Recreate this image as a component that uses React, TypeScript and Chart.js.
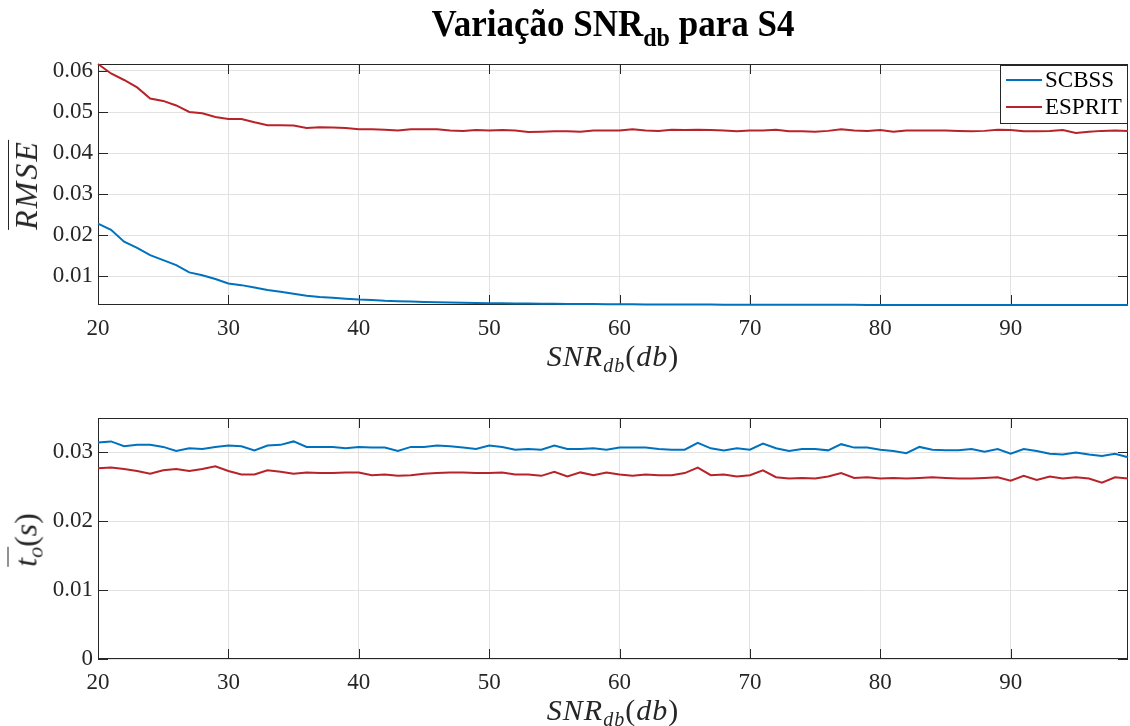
import React, { useEffect, useRef } from "react";
import { Chart, registerables } from "chart.js";

Chart.register(...registerables);

// ---------- data ----------
const SNR_DB = [
  20, 21, 22, 23, 24, 25, 26, 27, 28, 29, 30, 31, 32, 33, 34, 35, 36, 37, 38, 39,
  40, 41, 42, 43, 44, 45, 46, 47, 48, 49, 50, 51, 52, 53, 54, 55, 56, 57, 58, 59,
  60, 61, 62, 63, 64, 65, 66, 67, 68, 69, 70, 71, 72, 73, 74, 75, 76, 77, 78, 79,
  80, 81, 82, 83, 84, 85, 86, 87, 88, 89, 90, 91, 92, 93, 94, 95, 96, 97, 98, 99,
];

const RMSE_SCBSS = [
  0.0228, 0.0213, 0.0184, 0.0169, 0.0151, 0.0139, 0.0127, 0.0109, 0.0102, 0.0093,
  0.0082, 0.0078, 0.0072, 0.0066, 0.0062, 0.0057, 0.0052, 0.0049, 0.0047, 0.0045,
  0.0043, 0.0042, 0.0040, 0.0039, 0.0038, 0.0037, 0.00363, 0.00356, 0.0035, 0.00345,
  0.0034, 0.00336, 0.00333, 0.0033, 0.00327, 0.00324, 0.00322, 0.0032, 0.00318, 0.00316,
  0.00314, 0.00312, 0.00311, 0.0031, 0.00309, 0.00308, 0.00307, 0.00306, 0.00305, 0.00304,
  0.00303, 0.00302, 0.00302, 0.00301, 0.00301, 0.003, 0.003, 0.003, 0.003, 0.00299,
  0.00299, 0.00299, 0.00299, 0.00298, 0.00298, 0.00298, 0.00298, 0.00298, 0.00297, 0.00297,
  0.00297, 0.00297, 0.00297, 0.00297, 0.00297, 0.00296, 0.00296, 0.00296, 0.00296, 0.00296,
];

const RMSE_ESPRIT = [
  0.0617, 0.0594, 0.0578, 0.056, 0.0533, 0.0527, 0.0516, 0.05, 0.0497, 0.0488,
  0.0483, 0.0483, 0.0475, 0.0468, 0.0468, 0.0467, 0.0461, 0.0463, 0.0462, 0.0461,
  0.0458, 0.0458, 0.0457, 0.0455, 0.0458, 0.0458, 0.0458, 0.0455, 0.0454, 0.0456,
  0.0455, 0.0456, 0.0455, 0.0451, 0.0452, 0.0453, 0.0453, 0.0452, 0.0455, 0.0455,
  0.0455, 0.0458, 0.0455, 0.0454, 0.0457, 0.0456, 0.0457, 0.0456, 0.0455, 0.0453,
  0.0455, 0.0455, 0.0457, 0.0453, 0.0453, 0.0452, 0.0454, 0.0458, 0.0455, 0.0454,
  0.0456, 0.0452, 0.0455, 0.0455, 0.0455, 0.0455, 0.0454, 0.0453, 0.0454, 0.0457,
  0.0456, 0.0453, 0.0453, 0.0454, 0.0456, 0.0449, 0.0452, 0.0454, 0.0455, 0.0454,
];

const TIME_SCBSS = [
  0.03145, 0.0316, 0.0309, 0.0311, 0.0311, 0.0308, 0.0302, 0.0306, 0.0305, 0.0308,
  0.031, 0.0309, 0.0303, 0.031, 0.0311, 0.0316, 0.0308, 0.0308, 0.0308, 0.0306,
  0.0308, 0.0307, 0.0307, 0.0302, 0.0308, 0.0308, 0.031, 0.0309, 0.0307, 0.0305,
  0.031, 0.0308, 0.0304, 0.0305, 0.0304, 0.031, 0.0305, 0.0305, 0.0306, 0.0304,
  0.0307, 0.0307, 0.0307, 0.0305, 0.0304, 0.0304, 0.0314, 0.0306, 0.0303, 0.0306,
  0.0304, 0.0313, 0.0306, 0.0302, 0.0305, 0.0305, 0.0303, 0.0312, 0.0307, 0.0307,
  0.0304, 0.0302, 0.0299, 0.0308, 0.0304, 0.0303, 0.0303, 0.0305, 0.0301, 0.0305,
  0.0298, 0.0305, 0.0302, 0.0298, 0.0297, 0.03, 0.0297, 0.0295, 0.0298, 0.0293,
];

const TIME_ESPRIT = [
  0.0277, 0.0278, 0.0276, 0.0273, 0.0269, 0.0274, 0.0276, 0.0273, 0.0276, 0.028,
  0.0273, 0.0268, 0.0268, 0.0274, 0.0272, 0.0269, 0.0271, 0.027, 0.027, 0.0271,
  0.0271, 0.0267, 0.0268, 0.0266, 0.0267, 0.0269, 0.027, 0.0271, 0.0271, 0.027,
  0.027, 0.0271, 0.0268, 0.0268, 0.0266, 0.0272, 0.0265, 0.0271, 0.0267, 0.0271,
  0.0268, 0.0266, 0.0268, 0.0267, 0.0267, 0.027, 0.0278, 0.0267, 0.0268, 0.0265,
  0.0267, 0.0274, 0.0264, 0.0262, 0.0263, 0.0262, 0.0265, 0.027, 0.0263, 0.0264,
  0.0262, 0.0263, 0.0262, 0.0263, 0.0264, 0.0263, 0.0262, 0.0262, 0.0263, 0.0264,
  0.0259, 0.0266, 0.026, 0.0265, 0.0262, 0.0264, 0.0262, 0.0256, 0.0264, 0.0262,
];

const SERIES_LABELS = ["SCBSS", "ESPRIT"];
const SERIES_COLORS = ["#0072BD", "#B8232A"];

const X_TICKS = [20, 30, 40, 50, 60, 70, 80, 90];
const X_MIN = 20;
const X_MAX = 99;
const RMSE_TICKS = [0.01, 0.02, 0.03, 0.04, 0.05, 0.06];
const RMSE_MIN = 0.00296;
const RMSE_MAX = 0.0617;
const TIME_TICKS = [0, 0.01, 0.02, 0.03];
const TIME_MIN = 0;
const TIME_MAX = 0.035;

// ---------- styling ----------
const W = 1130;
const H = 726;
const FONT = "'Liberation Serif', 'Times New Roman', serif";
const AXIS_COLOR = "#262626";
const GRID_COLOR = "#e2e2e2";
const PLOT_LEFT = 98;
const PLOT_RIGHT = 1128;

const framePlugin = {
  id: "matlabFrame",
  beforeDatasetsDraw(chart: any) {
    const { ctx, chartArea: a, scales } = chart;
    ctx.save();
    ctx.strokeStyle = AXIS_COLOR;
    ctx.lineWidth = 1;
    const tl = 10;
    ctx.beginPath();
    scales.x.ticks.forEach((t: any) => {
      const px = Math.round(scales.x.getPixelForValue(t.value)) + 0.5;
      ctx.moveTo(px, a.bottom);
      ctx.lineTo(px, a.bottom - tl);
      ctx.moveTo(px, a.top);
      ctx.lineTo(px, a.top + tl);
    });
    scales.y.ticks.forEach((t: any) => {
      const py = Math.round(scales.y.getPixelForValue(t.value)) + 0.5;
      ctx.moveTo(a.left, py);
      ctx.lineTo(a.left + tl, py);
      ctx.moveTo(a.right, py);
      ctx.lineTo(a.right - tl, py);
    });
    ctx.stroke();
    ctx.strokeRect(Math.round(a.left) + 0.5, Math.round(a.top) + 0.5, Math.round(a.width) - 1, Math.round(a.height) - 1);
    ctx.restore();
  },
};

const legendPlugin = {
  id: "boxLegend",
  afterDraw(chart: any) {
    if (!chart.options.plugins.boxLegend?.show) return;
    const { ctx, chartArea: a } = chart;
    const bw = 128;
    const bh = 59;
    const x0 = Math.round(a.right) - bw;
    const y0 = Math.round(a.top) + 1;
    ctx.save();
    ctx.fillStyle = "#ffffff";
    ctx.fillRect(x0, y0, bw, bh);
    ctx.strokeStyle = AXIS_COLOR;
    ctx.lineWidth = 1;
    ctx.strokeRect(x0 + 0.5, y0 + 0.5, bw - 1, bh - 1);
    ctx.font = `23px ${FONT}`;
    ctx.textBaseline = "middle";
    ctx.textAlign = "left";
    chart.data.datasets.forEach((ds: any, i: number) => {
      const cy = y0 + 15 + i * 27;
      ctx.strokeStyle = ds.borderColor;
      ctx.lineWidth = 2;
      ctx.beginPath();
      ctx.moveTo(x0 + 6, cy);
      ctx.lineTo(x0 + 42, cy);
      ctx.stroke();
      ctx.fillStyle = "#000000";
      ctx.fillText(ds.label, x0 + 45, cy + 1);
    });
    ctx.restore();
  },
};

function makeConfig(
  series: number[][],
  yMin: number,
  yMax: number,
  yTicks: number[],
  plotTop: number,
  plotBottom: number,
  showLegend: boolean
): any {
  return {
    type: "line",
    data: {
      datasets: series.map((vals, i) => ({
        label: SERIES_LABELS[i],
        data: SNR_DB.map((x, j) => ({ x, y: vals[j] })),
        borderColor: SERIES_COLORS[i],
        backgroundColor: SERIES_COLORS[i],
        borderWidth: 2,
        pointRadius: 0,
        tension: 0,
        fill: false,
        clip: 2,
      })),
    },
    options: {
      animation: false,
      responsive: false,
      maintainAspectRatio: false,
      events: [],
      layout: { padding: { top: plotTop, right: W - PLOT_RIGHT, left: 0, bottom: 0 } },
      plugins: {
        legend: { display: false },
        tooltip: { enabled: false },
        title: { display: false },
        boxLegend: { show: showLegend },
      },
      scales: {
        x: {
          type: "linear",
          min: X_MIN,
          max: X_MAX,
          afterBuildTicks: (s: any) => {
            s.ticks = X_TICKS.map((v) => ({ value: v }));
          },
          afterFit: (s: any) => {
            s.height = H - plotBottom;
          },
          grid: { color: GRID_COLOR, lineWidth: 1, drawTicks: false },
          border: { display: false },
          ticks: {
            padding: 10,
            autoSkip: false,
            maxRotation: 0,
            color: AXIS_COLOR,
            font: { family: FONT, size: 23 },
            callback: (v: any) => String(v),
          },
        },
        y: {
          type: "linear",
          min: yMin,
          max: yMax,
          afterBuildTicks: (s: any) => {
            s.ticks = yTicks.map((v) => ({ value: v }));
          },
          afterFit: (s: any) => {
            s.width = PLOT_LEFT;
          },
          grid: { color: GRID_COLOR, lineWidth: 1, drawTicks: false },
          border: { display: false },
          ticks: {
            padding: 5,
            color: AXIS_COLOR,
            font: { family: FONT, size: 23 },
            callback: (v: any) => (v === 0 ? "0" : Number(v).toFixed(2)),
          },
        },
      },
    },
    plugins: [framePlugin, legendPlugin],
  };
}

function ChartCanvas({ config }: { config: any }) {
  const ref = useRef<HTMLCanvasElement | null>(null);
  useEffect(() => {
    if (!ref.current) return;
    const chart = new Chart(ref.current, config);
    return () => chart.destroy();
  }, []);
  return (
    <canvas
      ref={ref}
      width={W}
      height={H}
      style={{ position: "absolute", left: 0, top: 0, width: W, height: H }}
    />
  );
}

const mathStyle: React.CSSProperties = {
  fontFamily: FONT,
  fontStyle: "italic",
  color: "#262626",
  whiteSpace: "nowrap",
  position: "absolute",
  lineHeight: 1,
};

const overline: React.CSSProperties = {
  display: "inline-block",
  borderTop: "1.5px solid #262626",
  lineHeight: 1,
  paddingTop: 1,
};

function XLabel({ top }: { top: number }) {
  return (
    <div
      style={{
        ...mathStyle,
        fontSize: 30,
        letterSpacing: 1,
        left: (PLOT_LEFT + PLOT_RIGHT) / 2,
        top,
        transform: "translateX(-50%)",
      }}
    >
      SNR<span style={{ fontSize: 20, verticalAlign: "-6px" }}>db</span>
      <span style={{ fontStyle: "normal" }}>(</span>db<span style={{ fontStyle: "normal" }}>)</span>
    </div>
  );
}

export default function App() {
  const topConfig = makeConfig([RMSE_SCBSS, RMSE_ESPRIT], RMSE_MIN, RMSE_MAX, RMSE_TICKS, 64, 305, true);
  const bottomConfig = makeConfig([TIME_SCBSS, TIME_ESPRIT], TIME_MIN, TIME_MAX, TIME_TICKS, 418, 659, false);
  return (
    <div
      style={{
        position: "fixed",
        left: 0,
        top: 0,
        width: W,
        height: H,
        background: "#ffffff",
        overflow: "hidden",
      }}
    >
      <ChartCanvas config={topConfig} />
      <ChartCanvas config={bottomConfig} />
      <div
        style={{
          position: "absolute",
          left: (PLOT_LEFT + PLOT_RIGHT) / 2,
          top: 7,
          transform: "translateX(-50%) scaleY(1.06)",
          fontFamily: FONT,
          fontWeight: "bold",
          fontSize: 35,
          lineHeight: 1,
          whiteSpace: "nowrap",
          color: "#000",
        }}
      >
        Variação SNR<span style={{ fontSize: 24, verticalAlign: "-9px" }}>db</span> para S4
      </div>
      <XLabel top={341} />
      <XLabel top={695} />
      <div
        style={{
          ...mathStyle,
          fontSize: 32,
          letterSpacing: 2,
          left: 25,
          top: 184.5,
          transform: "translate(-50%, -50%) rotate(-90deg)",
        }}
      >
        <span style={overline}>RMSE</span>
      </div>
      <div
        style={{
          ...mathStyle,
          fontSize: 32,
          left: 27,
          top: 540,
          transform: "translate(-50%, -50%) rotate(-90deg)",
        }}
      >
        <span style={overline}>
          t<span style={{ fontSize: 22, verticalAlign: "-6px" }}>o</span>
        </span>
        <span style={{ fontStyle: "normal" }}>(</span>s<span style={{ fontStyle: "normal" }}>)</span>
      </div>
    </div>
  );
}
